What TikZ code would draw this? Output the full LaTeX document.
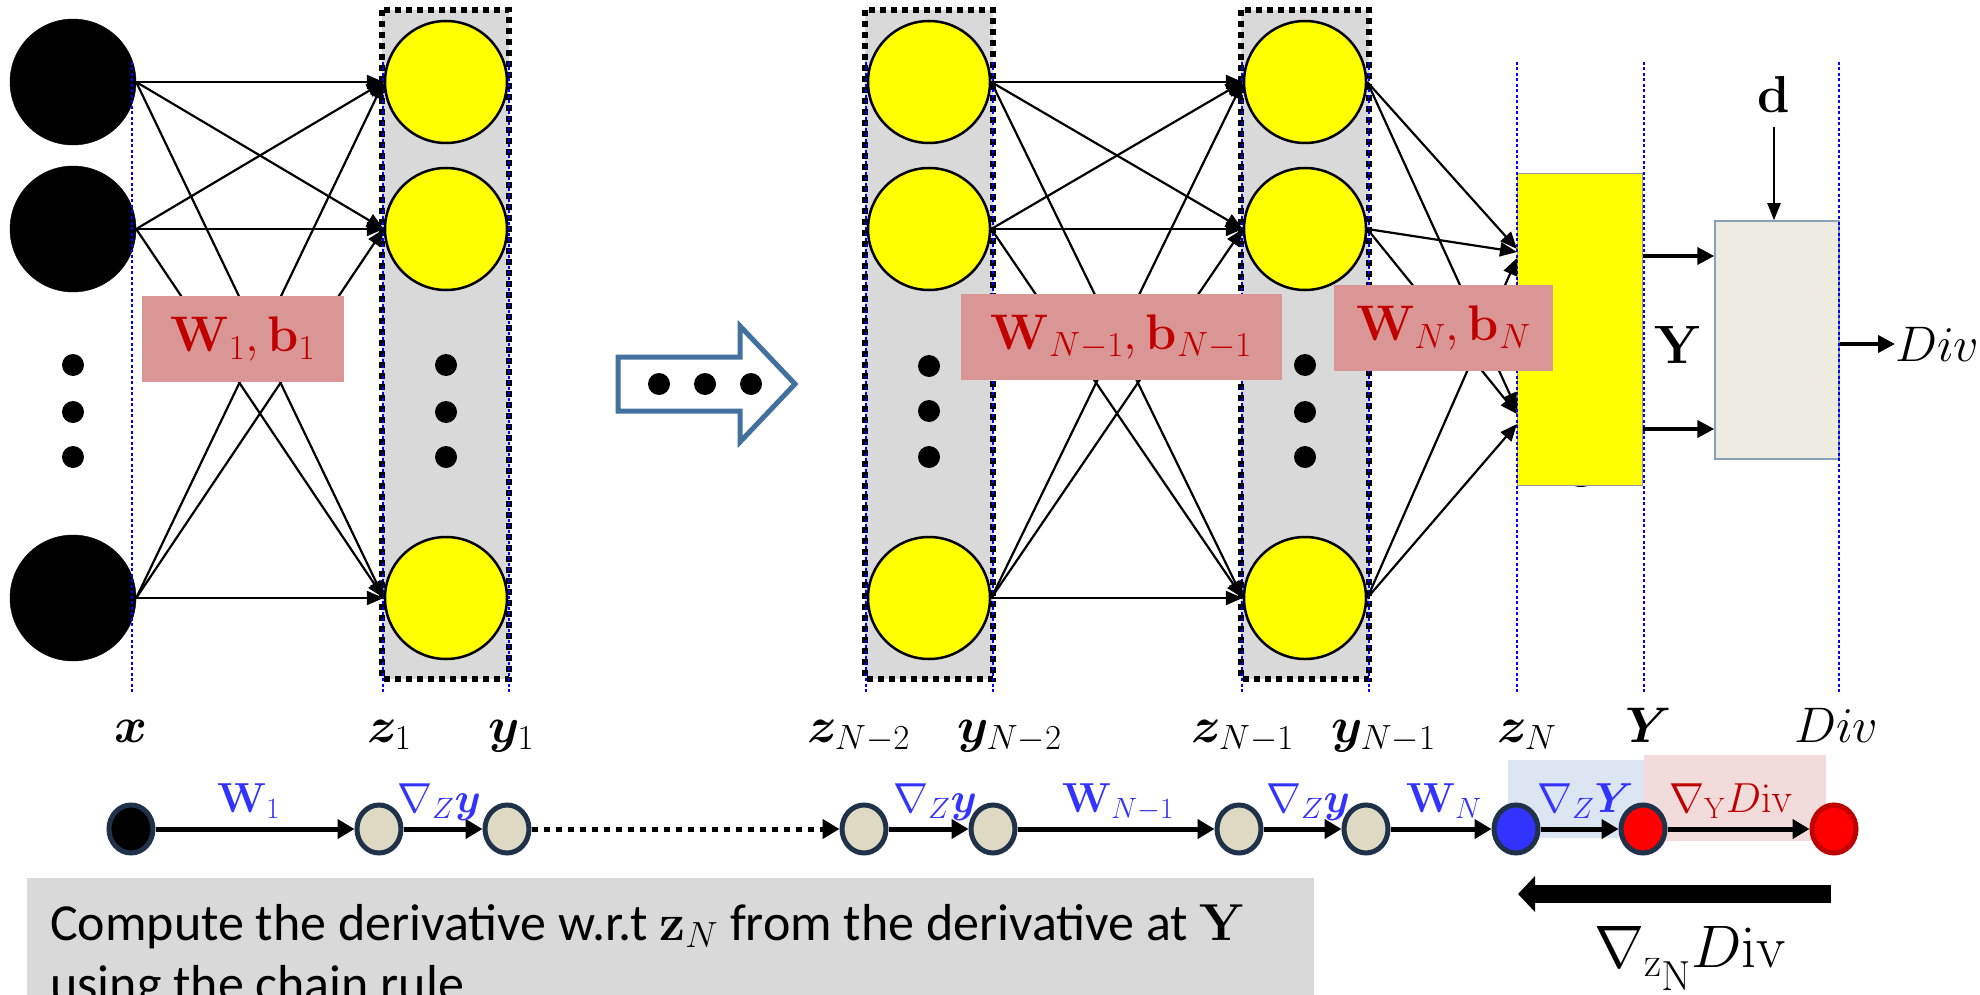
\RequirePackage{fix-cm}
\documentclass[tikz,border=0pt]{standalone}
\usepackage{amsmath,bm}
\usepackage[no-math]{fontspec}
\setmainfont{Carlito}
\usetikzlibrary{arrows.meta,shapes.geometric}
\definecolor{ylw}{HTML}{FFFF00}
\definecolor{boxgray}{HTML}{D9D9D9}
\definecolor{redbox}{HTML}{D99694}
\definecolor{darkred}{HTML}{C00000}
\definecolor{chainblue}{HTML}{3333FF}
\definecolor{beigenode}{HTML}{DDD9C3}
\definecolor{navy}{HTML}{1F3249}
\definecolor{bluebg}{HTML}{DCE6F2}
\definecolor{pinkbg}{HTML}{F2DCDB}
\definecolor{beigebox}{HTML}{EEECE1}
\definecolor{beigeedge}{HTML}{8CA0BE}
\definecolor{arrowblue}{HTML}{41719C}
\newcommand\setfs[1]{\fontsize{#1}{#1}\selectfont}
\begin{document}
\begin{tikzpicture}[x=1pt,y=-1pt,
  inneuron/.style={circle, fill=black, draw=black, minimum size=126pt, inner sep=0pt},
  neuron/.style={circle, fill=ylw, draw=black, line width=2.5pt, minimum size=122pt, inner sep=0pt},
  layerbox/.style={fill=boxgray, draw=black, line width=6pt, dash pattern=on 6pt off 5pt},
  guide/.style={draw=blue, line width=2.5pt, dash pattern=on 3pt off 2.5pt},
  wire/.style={line width=2.2pt, -{Triangle[length=17pt,width=14pt]}},
  wbox/.style={fill=redbox, minimum height=86pt, inner sep=0pt, text=darkred, font=\setfs{50}},
  lbl/.style={anchor=base west, inner sep=0pt, font=\setfs{50}},
  cnode/.style={ellipse, line width=5pt, draw=navy, minimum width=44pt, minimum height=48pt, inner sep=0pt},
  carrow/.style={line width=5pt, -{Triangle[length=17pt,width=19pt]}},
  clbl/.style={anchor=base west, inner sep=0pt, font=\setfs{42}, text=chainblue},
  outarrow/.style={line width=4pt, -{Triangle[length=17pt,width=17pt]}}
]
\useasboundingbox (0,0) rectangle (1980,995);
\clip (0,0) rectangle (1980,995);
\fill[white] (0,0) rectangle (1980,995);

% layer boxes
\draw[layerbox] (382,10) rectangle (509,679);
\draw[layerbox] (865,10) rectangle (993,679);
\draw[layerbox] (1241,10) rectangle (1369,679);

% input neurons
\node[inneuron] (ia) at (73,82) {};
\node[inneuron] (ib) at (73,229) {};
\node[inneuron] (ic) at (73,598) {};
\foreach \yy in {365,412,457} \fill (73,\yy) circle (11);

% layer 1
\node[neuron] (la) at (446,82) {};
\node[neuron] (lb) at (446,229) {};
\node[neuron] (lc) at (446,598) {};
\foreach \yy in {365,412,457} \fill (446,\yy) circle (11);

% layer N-2
\node[neuron] (ma) at (929,82) {};
\node[neuron] (mb) at (929,229) {};
\node[neuron] (mc) at (929,598) {};
\foreach \yy in {366,411,457} \fill (929,\yy) circle (11);

% layer N-1
\node[neuron] (na) at (1305,82) {};
\node[neuron] (nb) at (1305,229) {};
\node[neuron] (nc) at (1305,598) {};
\foreach \yy in {365,412,457} \fill (1305,\yy) circle (11);

% block arrow with dots
\draw[line width=5pt, draw=arrowblue, fill=white, line join=miter]
  (618,357) -- (740,357) -- (740,326) -- (795,384) -- (740,442) -- (740,411) -- (618,411) -- cycle;
\foreach \xx in {659,705,751} \fill (\xx,384) circle (11);

% output layer
\draw[line width=2pt] (1581,470) ellipse (18 and 16);
\node[rectangle, fill=ylw, draw=black!40, line width=1pt, minimum width=125pt, minimum height=311pt, inner sep=0pt] (yr) at (1579.5,329.5) {};
% divergence box
\node[rectangle, fill=beigebox, draw=beigeedge, line width=1.5pt, minimum width=124pt, minimum height=238pt, inner sep=0pt] (bb) at (1777,340) {};

% guide lines
\foreach \xx in {132,383,509,866,993,1242,1369,1517,1644,1839}
  \draw[guide] (\xx,62) -- (\xx,692);

% wires input -> layer 1
\foreach \s in {ia,ib,ic}
  \foreach \t in {la,lb,lc}
    \draw[wire] (\s.east) -- (\t.west);
% wires N-2 -> N-1
\foreach \s in {ma,mb,mc}
  \foreach \t in {na,nb,nc}
    \draw[wire] (\s.east) -- (\t.west);
% wires N-1 -> output
\coordinate (ta1) at (1517,249);
\coordinate (tb1) at (1517,252);
\coordinate (tc1) at (1517,258);
\coordinate (ta2) at (1517,410);
\coordinate (tb2) at (1517,414);
\coordinate (tc2) at (1517,424);
\draw[wire] (na.east) -- (ta1);
\draw[wire] (na.east) -- (ta2);
\draw[wire] (nb.east) -- (tb1);
\draw[wire] (nb.east) -- (tb2);
\draw[wire] (nc.east) -- (tc1);
\draw[wire] (nc.east) -- (tc2);

% output -> divergence
\coordinate (o1) at (1643,256);
\coordinate (o2) at (1643,429);
\draw[outarrow] (yr.east |- o1) -- (bb.west |- o1);
\draw[outarrow] (yr.east |- o2) -- (bb.west |- o2);

\node[inner sep=0pt, font=\setfs{52}] (d) at (1774,94) {$\mathbf{d}$};
\coordinate (dtop) at (1774,127);
\draw[line width=2pt, -{Triangle[length=17pt,width=13pt]}] (dtop) -- (dtop |- bb.north);
\node[anchor=west, inner sep=0pt, font=\setfs{50}] (divr) at (1895,344) {$Div$};
\draw[outarrow] (bb.east |- divr) -- (divr.west);
\node[inner sep=0pt, font=\setfs{54}] (ylab) at (1678,345) {$\mathbf{Y}$};

% weight boxes
\node[wbox, minimum width=202pt] (w1) at (243,339) {$\mathbf{W}_1, \mathbf{b}_1$};
\node[wbox, minimum width=321pt] (w2) at (1121.5,337) {$\mathbf{W}_{N-1}, \mathbf{b}_{N-1}$};
\node[wbox, minimum width=219pt] (w3) at (1443.5,328) {$\mathbf{W}_N, \mathbf{b}_N$};

% variable labels
\node[lbl, anchor=base] (lx) at (131,742) {$\bm{x}$};
\node[lbl] (lz1) at (367,742) {$\bm{z}_1$};
\node[lbl] (ly1) at (488,742) {$\bm{y}_1$};
\node[lbl] (lz2) at (807,742) {$\bm{z}_{N-2}$};
\node[lbl] (ly2) at (957,742) {$\bm{y}_{N-2}$};
\node[lbl] (lz3) at (1191,742) {$\bm{z}_{N-1}$};
\node[lbl] (ly3) at (1331,742) {$\bm{y}_{N-1}$};
\node[lbl] (lzn) at (1497,742) {$\bm{z}_N$};
\node[lbl] (lY) at (1625,742) {$\bm{Y}$};
\node[lbl] (ldiv) at (1794,742) {$Div$};

% chain backgrounds
\fill[bluebg] (1508,760) rectangle (1644,838);
\fill[pinkbg] (1644,755) rectangle (1826,841);

% chain nodes
\node[cnode, fill=black] (c0) at (131,829) {};
\node[cnode, fill=beigenode] (c1) at (379,829) {};
\node[cnode, fill=beigenode] (c2) at (507,829) {};
\node[cnode, fill=beigenode] (c3) at (864,829) {};
\node[cnode, fill=beigenode] (c4) at (993,829) {};
\node[cnode, fill=beigenode] (c5) at (1239,829) {};
\node[cnode, fill=beigenode] (c6) at (1366,829) {};
\node[cnode, fill=chainblue] (c7) at (1516,829) {};
\node[cnode, fill=red] (c8) at (1643,829) {};
\node[cnode, fill=red, draw=darkred] (c9) at (1834,829) {};

\draw[carrow] (c0) -- (c1);
\draw[carrow] (c1) -- (c2);
\draw[carrow, dash pattern=on 6pt off 6pt] (c2) -- (c3);
\draw[carrow] (c3) -- (c4);
\draw[carrow] (c4) -- (c5);
\draw[carrow] (c5) -- (c6);
\draw[carrow] (c6) -- (c7);
\draw[carrow] (c7) -- (c8);
\draw[carrow] (c8) -- (c9);

% chain labels
\node[clbl] (k1) at (217,812) {$\mathbf{W}_1$};
\node[clbl] (k2) at (397,812) {$\nabla_{Z}\bm{y}$};
\node[clbl] (k3) at (893,812) {$\nabla_{Z}\bm{y}$};
\node[clbl] (k4) at (1062,812) {$\mathbf{W}_{N-1}$};
\node[clbl] (k5) at (1266,812) {$\nabla_{Z}\bm{y}$};
\node[clbl] (k6) at (1406,812) {$\mathbf{W}_N$};
\node[clbl] (k7) at (1537,812) {$\nabla_{Z}\bm{Y}$};
\node[clbl, text=darkred] (k8) at (1669,812) {$\nabla_{\mathrm{Y}}D\mathrm{iv}$};

% backward arrow
\coordinate (bs) at (1831,894);
\coordinate (be) at (1518,894);
\draw[line width=18pt, -{Triangle[length=17pt,width=35pt]}] (bs) -- (be);
\node[anchor=base west, inner sep=0pt, font=\setfs{60}] (grad) at (1594,967) {$\nabla_{\mathrm{z}_{\scriptstyle\mathrm{N}}}D\mathrm{iv}$};

% text box
\fill[boxgray] (27,878) rectangle (1314,1000);
\node[anchor=base west, inner sep=0pt, font=\setfs{52}] (t1) at (50,940) {Compute the derivative w.r.t $\mathbf{z}_N$ from the derivative at $\mathbf{Y}$};
\node[anchor=base west, inner sep=0pt, font=\setfs{52}] (t2) at (50,1001) {using the chain rule};
\end{tikzpicture}
\end{document}
